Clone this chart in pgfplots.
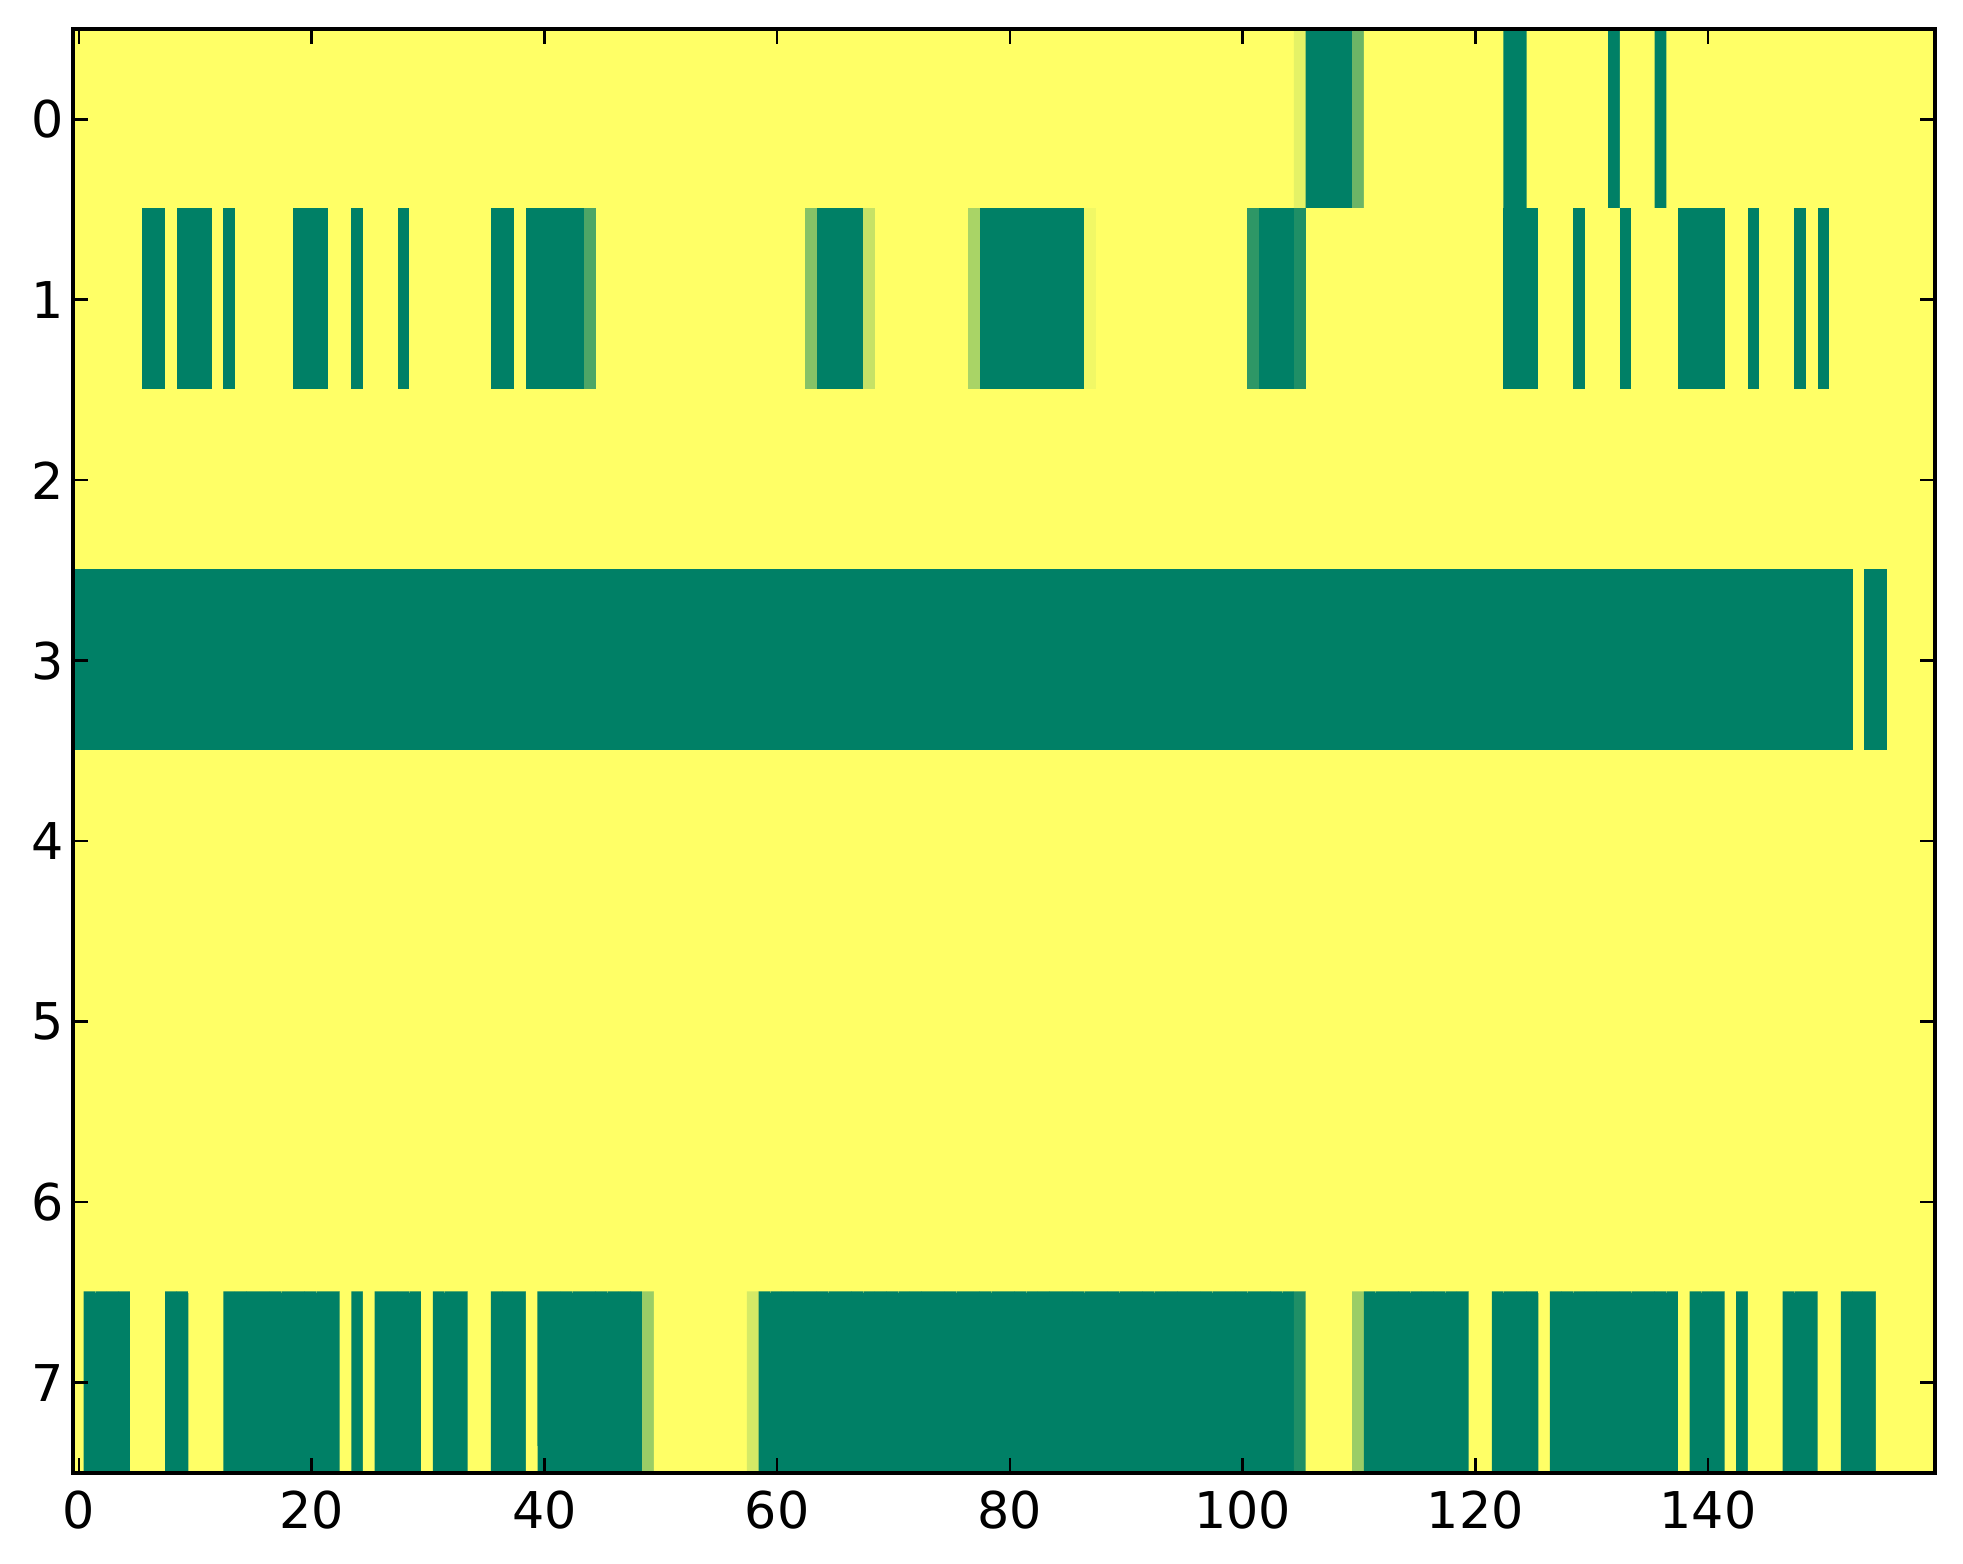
\documentclass[border=0pt]{standalone}
\usepackage{fontspec}
\setmainfont{DejaVu Sans}
\usepackage{pgfplots}
\usepackage{pgfplotstable}
\pgfplotsset{compat=1.18}
% one value per cell, rows 0..7, 160 cells per row (x varies fastest)
\pgfplotstableread[row sep=\\]{
c\\
% row 0
1\\1\\1\\1\\1\\1\\1\\1\\1\\1\\
1\\1\\1\\1\\1\\1\\1\\1\\1\\1\\
1\\1\\1\\1\\1\\1\\1\\1\\1\\1\\
1\\1\\1\\1\\1\\1\\1\\1\\1\\1\\
%
1\\1\\1\\1\\1\\1\\1\\1\\1\\1\\
1\\1\\1\\1\\1\\1\\1\\1\\1\\1\\
1\\1\\1\\1\\1\\1\\1\\1\\1\\1\\
1\\1\\1\\1\\1\\1\\1\\1\\1\\1\\
%
1\\1\\1\\1\\1\\1\\1\\1\\1\\1\\
1\\1\\1\\1\\1\\1\\1\\1\\1\\1\\
1\\1\\1\\1\\1\\0.89\\0\\0\\0\\0\\
0.42\\1\\1\\1\\1\\1\\1\\1\\1\\1\\
%
1\\1\\1\\0\\0\\1\\1\\1\\1\\1\\
1\\1\\0\\1\\1\\1\\0\\1\\1\\1\\
1\\1\\1\\1\\1\\1\\1\\1\\1\\1\\
1\\1\\1\\1\\1\\1\\1\\1\\1\\1\\
% row 1
1\\1\\1\\1\\1\\1\\0\\0\\1\\0\\
0\\0\\1\\0\\1\\1\\1\\1\\1\\0\\
0\\0\\1\\1\\0\\1\\1\\1\\0\\1\\
1\\1\\1\\1\\1\\1\\0\\0\\1\\0\\
%
0\\0\\0\\0\\0.3\\1\\1\\1\\1\\1\\
1\\1\\1\\1\\1\\1\\1\\1\\1\\1\\
1\\1\\1\\0.52\\0\\0\\0\\0\\0.77\\1\\
1\\1\\1\\1\\1\\1\\1\\0.66\\0\\0\\
%
0\\0\\0\\0\\0\\0\\0\\0.94\\1\\1\\
1\\1\\1\\1\\1\\1\\1\\1\\1\\1\\
1\\0.18\\0\\0\\0\\0.12\\1\\1\\1\\1\\
1\\1\\1\\1\\1\\1\\1\\1\\1\\1\\
%
1\\1\\1\\0\\0\\0\\1\\1\\1\\0\\
1\\1\\1\\0\\1\\1\\1\\1\\0\\0\\
0\\0\\1\\1\\0\\1\\1\\1\\0\\1\\
0\\1\\1\\1\\1\\1\\1\\1\\1\\1\\
% row 2
1\\1\\1\\1\\1\\1\\1\\1\\1\\1\\
1\\1\\1\\1\\1\\1\\1\\1\\1\\1\\
1\\1\\1\\1\\1\\1\\1\\1\\1\\1\\
1\\1\\1\\1\\1\\1\\1\\1\\1\\1\\
%
1\\1\\1\\1\\1\\1\\1\\1\\1\\1\\
1\\1\\1\\1\\1\\1\\1\\1\\1\\1\\
1\\1\\1\\1\\1\\1\\1\\1\\1\\1\\
1\\1\\1\\1\\1\\1\\1\\1\\1\\1\\
%
1\\1\\1\\1\\1\\1\\1\\1\\1\\1\\
1\\1\\1\\1\\1\\1\\1\\1\\1\\1\\
1\\1\\1\\1\\1\\1\\1\\1\\1\\1\\
1\\1\\1\\1\\1\\1\\1\\1\\1\\1\\
%
1\\1\\1\\1\\1\\1\\1\\1\\1\\1\\
1\\1\\1\\1\\1\\1\\1\\1\\1\\1\\
1\\1\\1\\1\\1\\1\\1\\1\\1\\1\\
1\\1\\1\\1\\1\\1\\1\\1\\1\\1\\
% row 3
0\\0\\0\\0\\0\\0\\0\\0\\0\\0\\
0\\0\\0\\0\\0\\0\\0\\0\\0\\0\\
0\\0\\0\\0\\0\\0\\0\\0\\0\\0\\
0\\0\\0\\0\\0\\0\\0\\0\\0\\0\\
%
0\\0\\0\\0\\0\\0\\0\\0\\0\\0\\
0\\0\\0\\0\\0\\0\\0\\0\\0\\0\\
0\\0\\0\\0\\0\\0\\0\\0\\0\\0\\
0\\0\\0\\0\\0\\0\\0\\0\\0\\0\\
%
0\\0\\0\\0\\0\\0\\0\\0\\0\\0\\
0\\0\\0\\0\\0\\0\\0\\0\\0\\0\\
0\\0\\0\\0\\0\\0\\0\\0\\0\\0\\
0\\0\\0\\0\\0\\0\\0\\0\\0\\0\\
%
0\\0\\0\\0\\0\\0\\0\\0\\0\\0\\
0\\0\\0\\0\\0\\0\\0\\0\\0\\0\\
0\\0\\0\\0\\0\\0\\0\\0\\0\\0\\
0\\0\\0\\1\\0\\0\\1\\1\\1\\1\\
% row 4
1\\1\\1\\1\\1\\1\\1\\1\\1\\1\\
1\\1\\1\\1\\1\\1\\1\\1\\1\\1\\
1\\1\\1\\1\\1\\1\\1\\1\\1\\1\\
1\\1\\1\\1\\1\\1\\1\\1\\1\\1\\
%
1\\1\\1\\1\\1\\1\\1\\1\\1\\1\\
1\\1\\1\\1\\1\\1\\1\\1\\1\\1\\
1\\1\\1\\1\\1\\1\\1\\1\\1\\1\\
1\\1\\1\\1\\1\\1\\1\\1\\1\\1\\
%
1\\1\\1\\1\\1\\1\\1\\1\\1\\1\\
1\\1\\1\\1\\1\\1\\1\\1\\1\\1\\
1\\1\\1\\1\\1\\1\\1\\1\\1\\1\\
1\\1\\1\\1\\1\\1\\1\\1\\1\\1\\
%
1\\1\\1\\1\\1\\1\\1\\1\\1\\1\\
1\\1\\1\\1\\1\\1\\1\\1\\1\\1\\
1\\1\\1\\1\\1\\1\\1\\1\\1\\1\\
1\\1\\1\\1\\1\\1\\1\\1\\1\\1\\
% row 5
1\\1\\1\\1\\1\\1\\1\\1\\1\\1\\
1\\1\\1\\1\\1\\1\\1\\1\\1\\1\\
1\\1\\1\\1\\1\\1\\1\\1\\1\\1\\
1\\1\\1\\1\\1\\1\\1\\1\\1\\1\\
%
1\\1\\1\\1\\1\\1\\1\\1\\1\\1\\
1\\1\\1\\1\\1\\1\\1\\1\\1\\1\\
1\\1\\1\\1\\1\\1\\1\\1\\1\\1\\
1\\1\\1\\1\\1\\1\\1\\1\\1\\1\\
%
1\\1\\1\\1\\1\\1\\1\\1\\1\\1\\
1\\1\\1\\1\\1\\1\\1\\1\\1\\1\\
1\\1\\1\\1\\1\\1\\1\\1\\1\\1\\
1\\1\\1\\1\\1\\1\\1\\1\\1\\1\\
%
1\\1\\1\\1\\1\\1\\1\\1\\1\\1\\
1\\1\\1\\1\\1\\1\\1\\1\\1\\1\\
1\\1\\1\\1\\1\\1\\1\\1\\1\\1\\
1\\1\\1\\1\\1\\1\\1\\1\\1\\1\\
% row 6
1\\1\\1\\1\\1\\1\\1\\1\\1\\1\\
1\\1\\1\\1\\1\\1\\1\\1\\1\\1\\
1\\1\\1\\1\\1\\1\\1\\1\\1\\1\\
1\\1\\1\\1\\1\\1\\1\\1\\1\\1\\
%
1\\1\\1\\1\\1\\1\\1\\1\\1\\1\\
1\\1\\1\\1\\1\\1\\1\\1\\1\\1\\
1\\1\\1\\1\\1\\1\\1\\1\\1\\1\\
1\\1\\1\\1\\1\\1\\1\\1\\1\\1\\
%
1\\1\\1\\1\\1\\1\\1\\1\\1\\1\\
1\\1\\1\\1\\1\\1\\1\\1\\1\\1\\
1\\1\\1\\1\\1\\1\\1\\1\\1\\1\\
1\\1\\1\\1\\1\\1\\1\\1\\1\\1\\
%
1\\1\\1\\1\\1\\1\\1\\1\\1\\1\\
1\\1\\1\\1\\1\\1\\1\\1\\1\\1\\
1\\1\\1\\1\\1\\1\\1\\1\\1\\1\\
1\\1\\1\\1\\1\\1\\1\\1\\1\\1\\
% row 7
1\\0\\0\\0\\0\\1\\1\\1\\0\\0\\
1\\1\\1\\0\\0\\0\\0\\0\\0\\0\\
0\\0\\0\\1\\0\\1\\0\\0\\0\\0\\
1\\0\\0\\0\\1\\1\\0\\0\\0\\1\\
%
0\\0\\0\\0\\0\\0\\0\\0\\0\\0.6\\
1\\1\\1\\1\\1\\1\\1\\1\\0.83\\0\\
0\\0\\0\\0\\0\\0\\0\\0\\0\\0\\
0\\0\\0\\0\\0\\0\\0\\0\\0\\0\\
%
0\\0\\0\\0\\0\\0\\0\\0\\0\\0\\
0\\0\\0\\0\\0\\0\\0\\0\\0\\0\\
0\\0\\0\\0\\0\\0.12\\1\\1\\1\\1\\
0.6\\0\\0\\0\\0\\0\\0\\0\\0\\0\\
%
1\\1\\0\\0\\0\\0\\1\\0\\0\\0\\
0\\0\\0\\0\\0\\0\\0\\0\\1\\0\\
0\\0\\1\\0\\1\\1\\1\\0\\0\\0\\
1\\1\\0\\0\\0\\1\\1\\1\\1\\1\\
}\heat
\begin{document}
\begin{tikzpicture}
\begin{axis}[
  scale only axis,
  width=367.3pt, height=284.8pt,
  xmin=-0.5, xmax=159.5, ymin=-0.5, ymax=7.5,
  y dir=reverse,
  xtick={0,20,...,140}, ytick={0,1,...,7},
  tick align=inside,
  major tick length=3pt,
  axis line style={line width=0.8pt},
  every tick/.style={black, line width=0.5pt},
  tick label style={font=\fontsize{10}{12}\selectfont},
  yticklabel style={xshift=1.7pt},
  /pgf/number format/assume math mode=true,
  colormap={summer}{rgb=(0,0.5,0.4) rgb=(1,1,0.4)},
  point meta min=0, point meta max=1,
  axis on top,
]
\addplot[matrix plot*, mesh/cols=160, point meta=explicit]
  table[x index=0, y index=0, meta index=0,
        x expr={mod(\coordindex,160)}, y expr={floor(\coordindex/160)}] {\heat};
\end{axis}
\path ([shift={(-14.4pt,-17.95pt)}]current axis.south west) rectangle ([shift={(5.52pt,5.72pt)}]current axis.north east);
\end{tikzpicture}
\end{document}
